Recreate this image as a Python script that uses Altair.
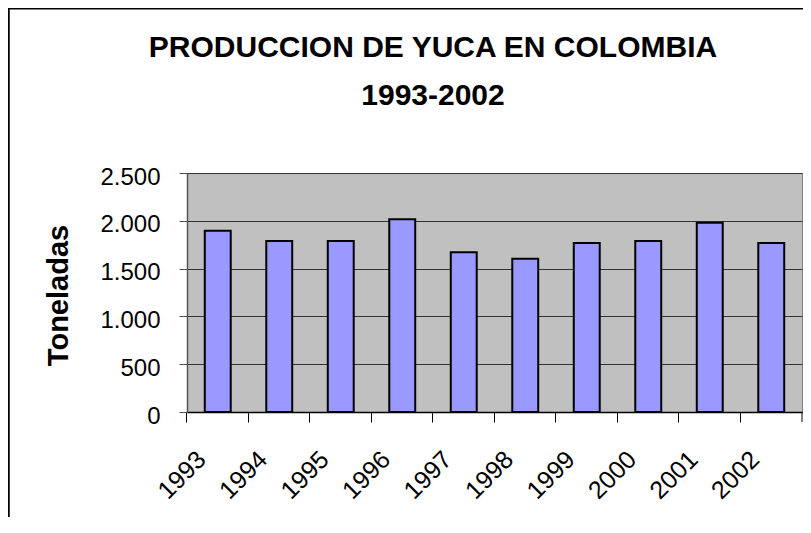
import altair as alt
import pandas as pd

# ---- data ----
years = ["1993", "1994", "1995", "1996", "1997", "1998", "1999", "2000", "2001", "2002"]
toneladas = [1895, 1790, 1790, 2017, 1671, 1602, 1769, 1790, 1979, 1769]
y_tick_values = [0, 500, 1000, 1500, 2000, 2500]
title_line1 = "PRODUCCION DE YUCA EN COLOMBIA"
title_line2 = "1993-2002"
y_title = "Toneladas"

df = pd.DataFrame({"year": years, "value": toneladas})

FONT = "Liberation Sans"
W, H = 615, 239

bars = alt.Chart(df).mark_bar(fill="#9999FF", stroke="black", strokeWidth=2).encode(
    x=alt.X(
        "year:N",
        sort=years,
        scale=alt.Scale(paddingInner=0.578, paddingOuter=0.289),
        axis=alt.Axis(
            title=None,
            bandPosition=-0.685,
            labelAngle=315,
            labelAlign="right",
            labelBaseline="middle",
            labelFont=FONT,
            labelFontSize=25,
            labelColor="black",
            labelOffset=-16,
            labelPadding=33,
            labelOverlap=False,
            tickSize=10,
            tickColor="black",
            tickWidth=1,
            domainColor="black",
            domainWidth=1.5,
            grid=False,
        ),
    ),
    y=alt.Y(
        "value:Q",
        scale=alt.Scale(domain=[0, 2500], nice=False),
        axis=alt.Axis(
            values=y_tick_values,
            labelExpr="replace(format(datum.value, ','), ',', '.')",
            labelFont=FONT,
            labelFontSize=24,
            labelColor="black",
            labelPadding=19,
            labelOffset=4,
            tickSize=8,
            tickColor="#555555",
            domainColor="#555555",
            domainWidth=1.5,
            grid=True,
            gridColor="#333333",
            gridWidth=1,
            title=y_title,
            titleFont=FONT,
            titleFontSize=29,
            titleFontWeight="bold",
            titleColor="black",
            titleAngle=270,
            titleAlign="center",
            titleBaseline="alphabetic",
            titleX=-120,
            titleY=122,
        ),
    ),
)

one = pd.DataFrame({"k": [0]})

# closing tick at the right end of the category axis
end_tick = alt.Chart(one).mark_rule(color="black", strokeWidth=1).encode(
    x=alt.value(W), y=alt.value(H), y2=alt.value(H + 10)
)

frame_left = alt.Chart(one).mark_rule(color="black", strokeWidth=2.5).encode(
    x=alt.value(-178.5), y=alt.value(-165), y2=alt.value(400)
)
frame_top = alt.Chart(one).mark_rule(color="black", strokeWidth=2).encode(
    x=alt.value(-180), x2=alt.value(700), y=alt.value(-164.5)
)

t1 = alt.Chart(pd.DataFrame({"t": [title_line1]})).mark_text(
    font=FONT, fontSize=30, fontWeight="bold", align="center", baseline="alphabetic", color="black"
).encode(x=alt.value(246), y=alt.value(-116), text="t:N")

t2 = alt.Chart(pd.DataFrame({"t": [title_line2]})).mark_text(
    font=FONT, fontSize=30, fontWeight="bold", align="center", baseline="alphabetic", color="black"
).encode(x=alt.value(246), y=alt.value(-68), text="t:N")

chart = alt.layer(bars, end_tick, frame_left, frame_top, t1, t2).properties(
    width=W,
    height=H,
    autosize=alt.AutoSizeParams(type="none"),
    padding={"left": 179, "top": 165, "right": 1, "bottom": 105},
    background="white",
).configure_view(fill="#C0C0C0", stroke="#808080", strokeWidth=1)

chart.save("out.html", embed_options={"renderer": "svg", "actions": False})
